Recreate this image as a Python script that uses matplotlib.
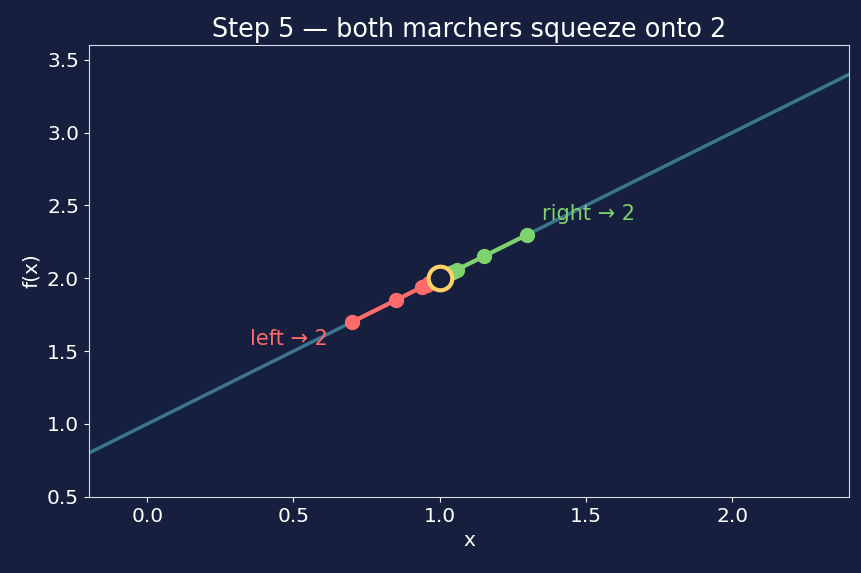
import numpy as np
import matplotlib.pyplot as plt

# f(x) = x + 1, marchers approach x = 1 from both sides
line_x = [-0.2, 2.4]
line_y = [0.8, 3.4]
left_x = [0.7, 0.85, 0.94, 0.955, 0.965]
left_y = [1.7, 1.85, 1.94, 1.955, 1.965]
right_x = [1.3, 1.15, 1.06, 1.045, 1.035]
right_y = [2.3, 2.15, 2.06, 2.045, 2.035]
limit_x = [1.0]
limit_y = [2.0]

bg = "#161f3d"
fg = "#ffffff"
red = "#ff6b6b"
green = "#7fd36e"
yellow = "#ffd166"
teal = "#3f8199"

fig, ax = plt.subplots(figsize=(8.62, 5.73), dpi=100)
fig.patch.set_facecolor(bg)
ax.set_facecolor(bg)

ax.plot(line_x, line_y, color=teal, lw=2.5, alpha=0.9, zorder=1)
ax.plot(left_x, left_y, "-o", color=red, lw=3, ms=10, zorder=3)
ax.plot(right_x, right_y, "-o", color=green, lw=3, ms=10, zorder=3)
ax.plot(limit_x, limit_y, "o", ms=17, mfc=bg, mec=yellow, mew=3, zorder=4)

ax.text(0.35, 1.58, "left → 2", color=red, fontsize=15, va="center")
ax.text(1.35, 2.44, "right → 2", color=green, fontsize=15, va="center")

ax.set_xlim(-0.2, 2.4)
ax.set_ylim(0.5, 3.6)
ax.set_title("Step 5 — both marchers squeeze onto 2", color=fg, fontsize=18.4)
ax.set_xlabel("x", color=fg, fontsize=14.5)
ax.set_ylabel("f(x)", color=fg, fontsize=14.5)
ax.tick_params(colors=fg, labelsize=14.5)
for s in ax.spines.values():
    s.set_color("#d8dce6")

fig.subplots_adjust(left=0.103, right=0.985, top=0.921, bottom=0.133)
fig.savefig("out.png", dpi=100, facecolor=bg)
